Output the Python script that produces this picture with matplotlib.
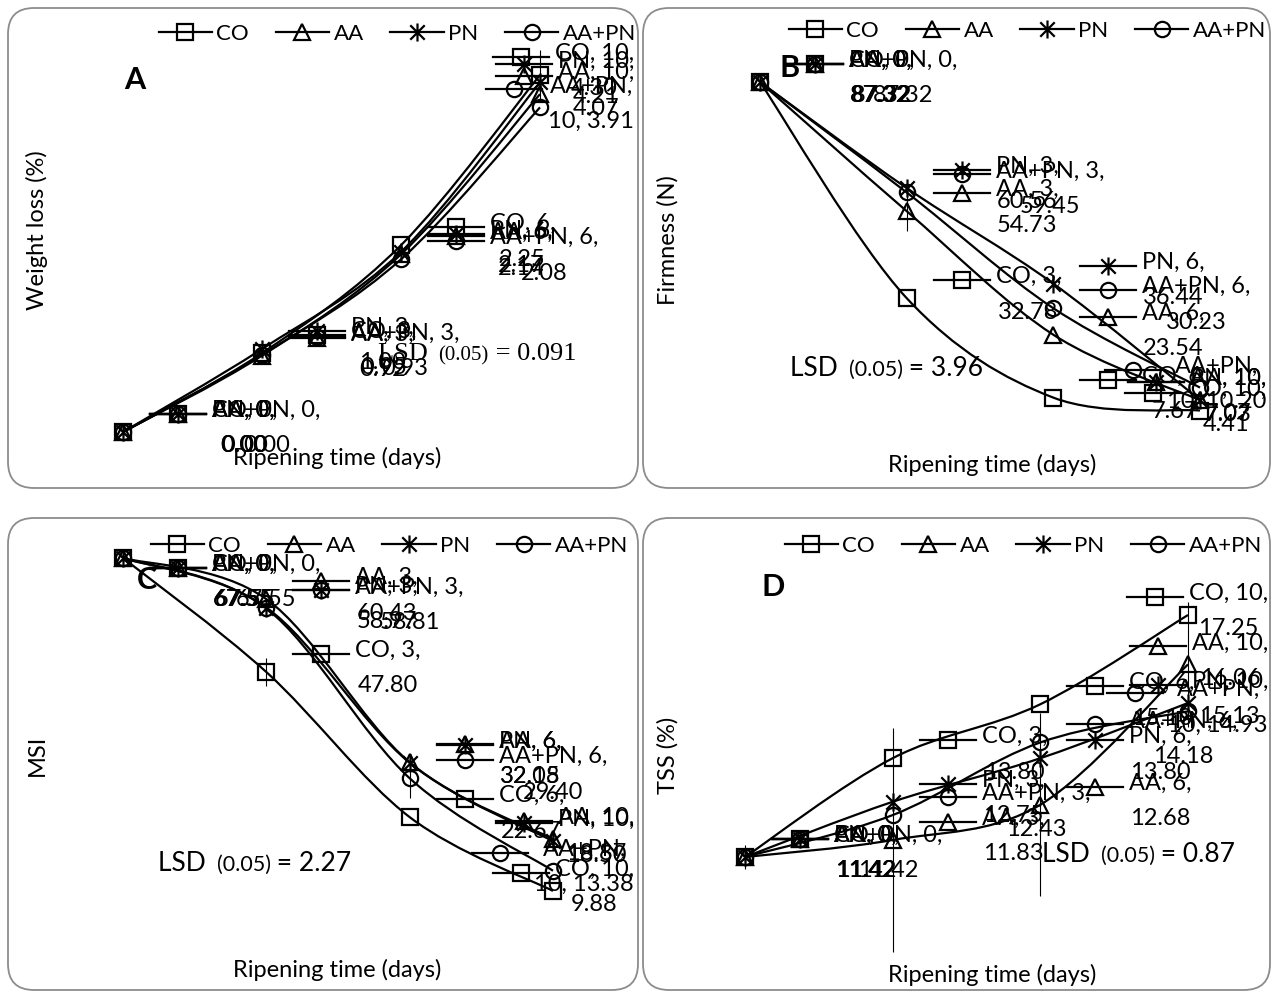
import matplotlib
matplotlib.use("Agg")
import matplotlib.pyplot as plt
from matplotlib.lines import Line2D
from matplotlib.patches import FancyBboxPatch, PathPatch
from matplotlib.path import Path
from matplotlib.transforms import IdentityTransform

plt.rcParams["font.family"] = ["Lato", "DejaVu Sans"]

W, H = 1276, 992

# Excel-like star marker: an X with a vertical bar
STAR = Path([(0, -1), (0, 1), (-0.8, -0.8), (0.8, 0.8), (-0.8, 0.8), (0.8, -0.8)],
            [Path.MOVETO, Path.LINETO] * 3)

# ---- data ----
days = [0, 3, 6, 10]
series_names = ["CO", "AA", "PN", "AA+PN"]
markers = ["s", "^", STAR, "o"]

# A: weight loss (%)
wl_co = [0.00, 0.95, 2.25, 4.30]
wl_aa = [0.00, 0.92, 2.14, 4.07]
wl_pn = [0.00, 1.00, 2.17, 4.21]
wl_aapn = [0.00, 0.93, 2.08, 3.91]
wl_err_co = [0.0, 0.0, 0.0, 0.30]

# B: firmness (N)
fi_co = [87.32, 32.78, 7.67, 4.41]
fi_aa = [87.32, 54.73, 23.54, 7.03]
fi_pn = [87.32, 60.56, 36.44, 7.07]
fi_aapn = [87.32, 59.45, 30.23, 10.20]
fi_err_aa = [0.0, 5.0, 0.0, 0.0]

# C: MSI
msi_co = [67.55, 47.80, 22.67, 9.88]
msi_aa = [67.55, 60.43, 32.15, 18.87]
msi_pn = [67.55, 58.97, 32.08, 18.50]
msi_aapn = [67.55, 58.81, 29.40, 13.38]
msi_err_co = [0.0, 2.5, 0.0, 0.0]
msi_err_aapn = [0.0, 0.0, 3.5, 0.0]

# D: TSS (%)
tss_co = [11.42, 13.80, 15.10, 17.25]
tss_aa = [11.42, 11.83, 12.68, 16.06]
tss_pn = [11.42, 12.75, 13.80, 15.13]
tss_aapn = [11.42, 12.43, 14.18, 14.93]
tss_err_aa = [0.3, 2.7, 2.2, 1.5]

LABEL_FS = 17

fig = plt.figure(figsize=(W / 100, H / 100), dpi=100)
renderer = fig.canvas.get_renderer()
ident = IdentityTransform()


def fy(y):
    """top-left pixel y -> display y"""
    return H - y


def msize(m):
    return 13 if m is STAR else 11


def panel_box(x0, y0, x1, y1):
    box = FancyBboxPatch((x0, fy(y1)), x1 - x0, y1 - y0,
                         boxstyle="round,pad=0,rounding_size=26",
                         transform=ident, fc="none", ec="#8c8c8c", lw=1.3,
                         zorder=-1)
    fig.add_artist(box)


def make_axes(x_day0, x_day10, y_lo_px, y_hi_px, vlo, vhi):
    ax = fig.add_axes([x_day0 / W, fy(y_lo_px) / H,
                       (x_day10 - x_day0) / W, (y_lo_px - y_hi_px) / H])
    ax.set_xlim(0, 3)
    ax.set_ylim(vlo, vhi)
    ax.axis("off")
    return ax


def smooth_curve(ax, vals):
    pts = [tuple(ax.transData.transform((i, v))) for i, v in enumerate(vals)]
    ext = [pts[0]] + pts + [pts[-1]]
    verts = [pts[0]]
    codes = [Path.MOVETO]
    for i in range(len(pts) - 1):
        p0, p1, p2, p3 = ext[i], ext[i + 1], ext[i + 2], ext[i + 3]
        c1 = (p1[0] + (p2[0] - p0[0]) / 6, p1[1] + (p2[1] - p0[1]) / 6)
        c2 = (p2[0] - (p3[0] - p1[0]) / 6, p2[1] - (p3[1] - p1[1]) / 6)
        verts += [c1, c2, p2]
        codes += [Path.CURVE4] * 3
    fig.add_artist(PathPatch(Path(verts, codes), transform=ident,
                             fc="none", ec="black", lw=1.6))


def key(xc, y, marker):
    fig.add_artist(Line2D([xc - 28, xc + 28], [y, y], transform=ident,
                          color="black", lw=1.6))
    fig.add_artist(Line2D([xc], [y], transform=ident, color="black",
                          marker=marker, ms=msize(marker), mfc="none", mew=1.6))


def point_label(ax, i, v, name, marker, right_edge, top_limit):
    px, py = ax.transData.transform((i, v))
    ky = min(py + 18, fy(top_limit))
    txt = f"{name}, {days[i]},\n{v:.2f}"
    t = fig.text(px + 89, ky + 14, txt, transform=ident, ha="left", va="top",
                 multialignment="center", fontsize=LABEL_FS, linespacing=1.85)
    bb = t.get_window_extent(renderer)
    if bb.x1 > right_edge:
        if name == "AA+PN":
            t.set_text(f"{name},\n{days[i]}, {v:.2f}")
            bb = t.get_window_extent(renderer)
        shift = bb.x1 - right_edge
        t.set_x(px + 89 - shift)
        bb = t.get_window_extent(renderer)
    key(bb.x0 - 34, ky, marker)


def lsd_text(x, y, value, family, big, small):
    parts = [("LSD ", big), ("(0.05)", small), (f" = {value}", big)]
    for s, size in parts:
        t = fig.text(x, fy(y), s, transform=ident, fontsize=size,
                     family=family, va="baseline")
        x = t.get_window_extent(renderer).x1 + (4 if s == "LSD " else 0)


def draw_panel(ax, data, errs, right_edge, top_limit=0):
    for vals in data:
        smooth_curve(ax, vals)
    for vals, err in errs:
        ax.errorbar(range(4), vals, yerr=err, fmt="none", ecolor="black",
                    elinewidth=0.8, capsize=0, clip_on=False)
    for vals, m, name in zip(data, markers, series_names):
        ax.plot(range(4), vals, ls="none", marker=m, ms=msize(m), mfc="none",
                mec="black", mew=1.6, clip_on=False)
        for i, v in enumerate(vals):
            point_label(ax, i, v, name, m, right_edge, top_limit)


def legend(x_right, y_top):
    handles = [Line2D([], [], color="black", lw=1.6, marker=m, ms=msize(m),
                      mfc="none", mew=1.6) for m in markers]
    fig.legend(handles, series_names, loc="upper right", ncol=4,
               bbox_to_anchor=(x_right / W, fy(y_top) / H), frameon=False,
               fontsize=16, handlelength=2.4, handletextpad=0.2,
               columnspacing=1.2, borderaxespad=0, borderpad=0)


# panel frames
panel_box(8, 8, 638, 488)
panel_box(643, 8, 1270, 488)
panel_box(8, 518, 638, 990)
panel_box(643, 518, 1270, 990)

# A
axA = make_axes(123, 540, 432, 75, 0, 4.30)
draw_panel(axA, [wl_co, wl_aa, wl_pn, wl_aapn], [(wl_co, wl_err_co)], 634)
# B
axB = make_axes(760, 1200, 428, 82, 0, 87.32)
draw_panel(axB, [fi_co, fi_aa, fi_pn, fi_aapn], [(fi_aa, fi_err_aa)], 1266)
# C
axC = make_axes(123, 553, 948, 558, 0, 67.55)
draw_panel(axC, [msi_co, msi_aa, msi_pn, msi_aapn],
           [(msi_co, msi_err_co), (msi_aapn, msi_err_aapn)], 634, top_limit=568)
# D
axD = make_axes(745, 1188, 857, 615, 11.42, 17.25)
draw_panel(axD, [tss_co, tss_aa, tss_pn, tss_aapn], [(tss_aa, tss_err_aa)], 1268)

legend(636, 24)
legend(1266, 21)
legend(628, 536)
legend(1262, 536)

# panel letters
for letter, x, y in [("A", 135, 80), ("B", 790, 68), ("C", 147, 580), ("D", 773, 587)]:
    fig.text(x, fy(y), letter, transform=ident, fontsize=22, weight="bold",
             ha="center", va="center")

# axis titles
for s, x, y in [("Ripening time (days)", 337, 458), ("Ripening time (days)", 992, 465),
                ("Ripening time (days)", 337, 970), ("Ripening time (days)", 992, 975)]:
    fig.text(x, fy(y), s, transform=ident, fontsize=17, ha="center", va="center")
for s, x, y in [("Weight loss (%)", 37, 230), ("Firmness (N)", 668, 240),
                ("MSI", 37, 755), ("TSS (%)", 668, 755)]:
    fig.text(x, fy(y), s, transform=ident, fontsize=17, ha="center",
             va="center", rotation=90)

lsd_text(378, 360, "0.091", "Liberation Serif", 19, 15)
lsd_text(790, 376, "3.96", "Lato", 19, 15.5)
lsd_text(158, 871, "2.27", "Lato", 19, 15.5)
lsd_text(1042, 862, "0.87", "Lato", 19, 15.5)

fig.savefig("out.png", dpi=100)
